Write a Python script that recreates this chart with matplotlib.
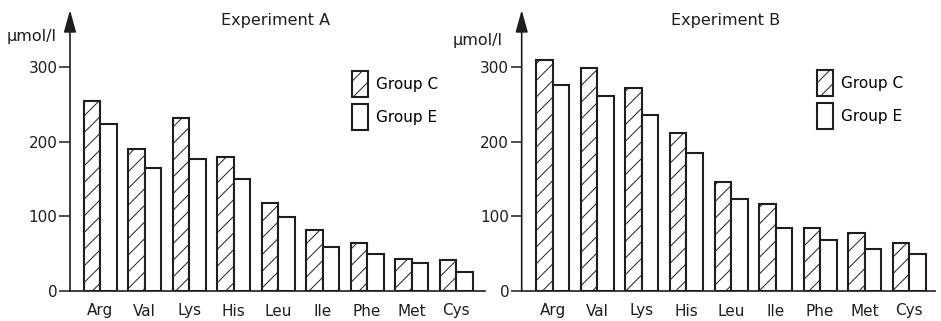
import matplotlib
matplotlib.use("Agg")
import matplotlib.pyplot as plt
import numpy as np

# Amino acids on the x axis
amino_acids = ["Arg", "Val", "Lys", "His", "Leu", "Ile", "Phe", "Met", "Cys"]

# Experiment A (umol/l)
exp_a_group_c = [254, 190, 231, 179, 118, 82, 64, 43, 42]
exp_a_group_e = [224, 165, 177, 150, 99, 59, 49, 37, 25]

# Experiment B (umol/l)
exp_b_group_c = [309, 298, 271, 211, 146, 117, 84, 78, 64]
exp_b_group_e = [275, 261, 236, 184, 123, 84, 68, 56, 50]

y_ticks = [0, 100, 200, 300]

plt.rcParams["font.family"] = "DejaVu Sans"
plt.rcParams["hatch.linewidth"] = 0.7

ink = "#1e1e1e"
W, H = 941, 321


def px_box(x0, y0, x1, y1):
    # pixel box (top-left origin) -> figure fraction rect
    return [x0 / W, 1 - y1 / H, (x1 - x0) / W, (y1 - y0) / H]


def draw_panel(ax, c_vals, e_vals, xlim, title, title_x, legend_xy):
    x = np.arange(len(amino_acids))
    w = 0.37
    ax.bar(x - w / 2, c_vals, width=w, facecolor="white", edgecolor=ink,
           linewidth=1.5, hatch="//", label="Group C")
    ax.bar(x + w / 2, e_vals, width=w, facecolor="white", edgecolor=ink,
           linewidth=1.5, label="Group E")

    ax.set_xlim(*xlim)
    ax.set_ylim(0, 376)
    ax.set_yticks(y_ticks)
    ax.set_xticks(x)
    ax.set_xticklabels(amino_acids, fontsize=11, color=ink)
    ax.tick_params(axis="x", length=0, pad=9)
    ax.tick_params(axis="y", length=8, width=1.1, pad=1, labelsize=11,
                   colors=ink)

    for side in ["top", "right", "left"]:
        ax.spines[side].set_visible(False)
    ax.spines["bottom"].set_linewidth(1.2)
    ax.spines["bottom"].set_color(ink)

    # y axis with arrow head
    ax.annotate("", xy=(0, 1.0), xytext=(0, 0), xycoords="axes fraction",
                arrowprops=dict(arrowstyle="-|>,head_length=0.9,head_width=0.25",
                                color=ink, lw=1.2, shrinkA=0, shrinkB=0,
                                mutation_scale=15))

    fig.text(title_x / W, 1 - 20 / H, title, ha="center", va="center",
             fontsize=11.5, color=ink)

    ax.legend(loc="upper left", frameon=False, fontsize=11,
              bbox_to_anchor=(legend_xy[0] / W, 1 - legend_xy[1] / H),
              bbox_transform=fig.transFigure, borderpad=0, borderaxespad=0,
              handlelength=1.05, handleheight=2.2, handletextpad=0.55,
              labelspacing=0.5)


fig = plt.figure(figsize=(W / 100, H / 100), dpi=100)

ax1 = fig.add_axes(px_box(70, 10, 485, 291))
draw_panel(ax1, exp_a_group_c, exp_a_group_e, (-0.68, 8.65),
           "Experiment A", 276, (352, 71))
fig.text(7 / W, 1 - 36 / H, "μmol/l", ha="left", va="center",
         fontsize=11.5, color=ink)

ax2 = fig.add_axes(px_box(521.7, 10, 935, 291))
draw_panel(ax2, exp_b_group_c, exp_b_group_e, (-0.70, 8.58),
           "Experiment B", 726, (817, 70))
fig.text(453 / W, 1 - 41 / H, "μmol/l", ha="left", va="center",
         fontsize=11.5, color=ink)

fig.savefig("out.png", dpi=100, facecolor="white")
